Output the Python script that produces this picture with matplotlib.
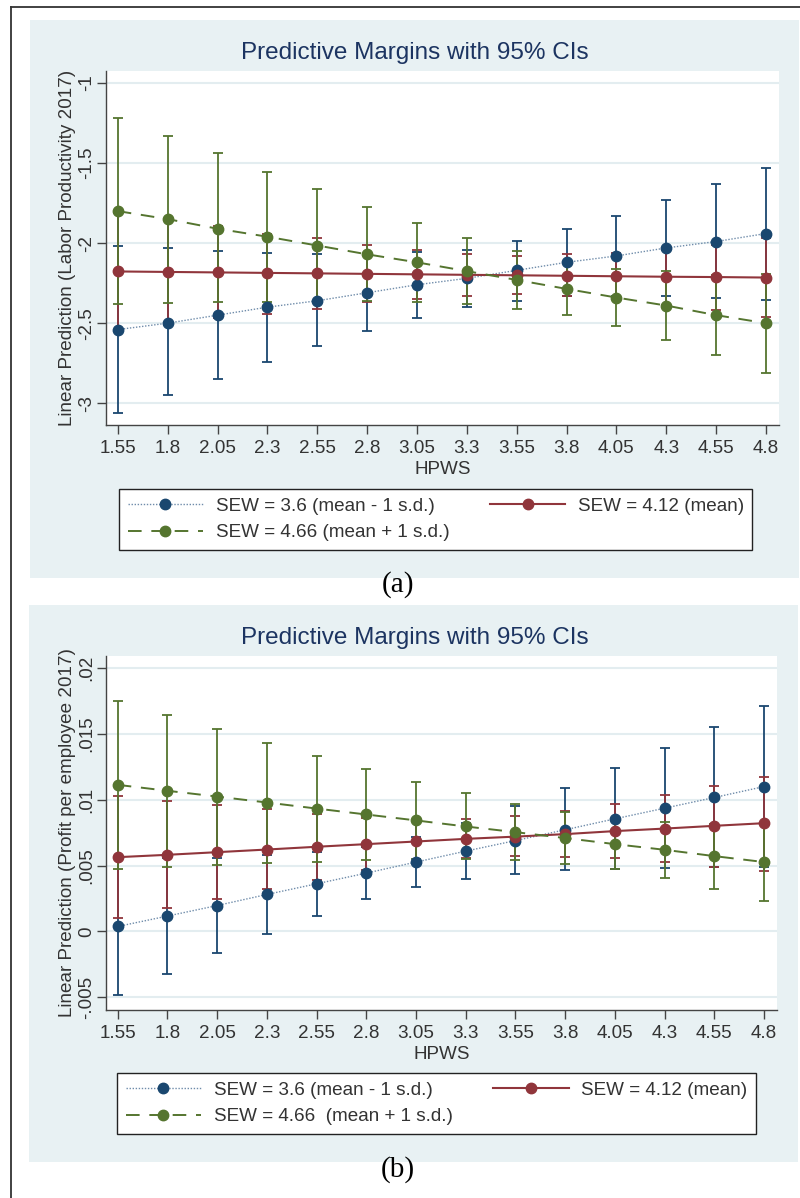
import matplotlib
matplotlib.use('Agg')
import matplotlib.pyplot as plt
from matplotlib.patches import Rectangle
from matplotlib.lines import Line2D

# HPWS values on the x axis
hpws = [1.55, 1.8, 2.05, 2.3, 2.55, 2.8, 3.05, 3.3, 3.55, 3.8, 4.05, 4.3, 4.55, 4.8]
xtick_labels = ['1.55', '1.8', '2.05', '2.3', '2.55', '2.8', '3.05', '3.3',
                '3.55', '3.8', '4.05', '4.3', '4.55', '4.8']

labels_a = ['SEW = 3.6 (mean - 1 s.d.)', 'SEW = 4.12 (mean)', 'SEW = 4.66 (mean + 1 s.d.)']
labels_b = ['SEW = 3.6 (mean - 1 s.d.)', 'SEW = 4.12 (mean)', 'SEW = 4.66  (mean + 1 s.d.)']

# panel (a): Labor productivity
a_low = [-2.54, -2.50, -2.45, -2.40, -2.36, -2.31, -2.26, -2.22, -2.17, -2.12, -2.08, -2.03, -1.99, -1.94]
a_low_lo = [-3.06, -2.95, -2.85, -2.74, -2.64, -2.55, -2.47, -2.40, -2.36, -2.33, -2.33, -2.33, -2.34, -2.355]
a_low_hi = [-2.02, -2.03, -2.05, -2.06, -2.07, -2.07, -2.055, -2.04, -1.985, -1.91, -1.83, -1.73, -1.63, -1.53]
a_mean = [-2.177, -2.180, -2.183, -2.186, -2.189, -2.192, -2.195, -2.198, -2.201, -2.204, -2.207, -2.210, -2.212, -2.215]
a_mean_lo = [-2.55, -2.51, -2.47, -2.44, -2.41, -2.37, -2.35, -2.33, -2.32, -2.33, -2.35, -2.385, -2.42, -2.46]
a_mean_hi = [-1.81, -1.85, -1.89, -1.94, -1.97, -2.01, -2.04, -2.07, -2.08, -2.07, -2.06, -2.04, -2.01, -1.97]
a_high = [-1.80, -1.85, -1.91, -1.96, -2.015, -2.07, -2.12, -2.175, -2.23, -2.286, -2.34, -2.39, -2.45, -2.50]
a_high_lo = [-2.38, -2.375, -2.37, -2.365, -2.36, -2.36, -2.365, -2.38, -2.41, -2.45, -2.52, -2.606, -2.70, -2.81]
a_high_hi = [-1.217, -1.33, -1.44, -1.556, -1.665, -1.773, -1.875, -1.97, -2.05, -2.12, -2.16, -2.175, -2.20, -2.19]
a_yticks = [-3, -2.5, -2, -1.5, -1]
a_yticklabels = ['-3', '-2.5', '-2', '-1.5', '-1']

# panel (b): Profit per employee
b_low = [0.00038, 0.00117, 0.00197, 0.00281, 0.00362, 0.00443, 0.00527, 0.0061, 0.0069, 0.00772, 0.00855, 0.00936, 0.01017, 0.011]
b_low_lo = [-0.0048, -0.00321, -0.00167, -0.00017, 0.00121, 0.00246, 0.00341, 0.00402, 0.00438, 0.00463, 0.00475, 0.00481, 0.00486, 0.00493]
b_low_hi = [0.0056, 0.00555, 0.0056, 0.0058, 0.0060, 0.0064, 0.00716, 0.0082, 0.0095, 0.01088, 0.0124, 0.01396, 0.01553, 0.0171]
b_mean = [0.00564, 0.00582, 0.00602, 0.00622, 0.00643, 0.00663, 0.00683, 0.00703, 0.00720, 0.00739, 0.00762, 0.00781, 0.00802, 0.00822]
b_mean_lo = [0.00102, 0.00175, 0.00248, 0.00324, 0.0039, 0.00464, 0.00526, 0.00557, 0.00574, 0.00569, 0.00554, 0.00524, 0.00493, 0.0046]
b_mean_hi = [0.0103, 0.00992, 0.00959, 0.00929, 0.00895, 0.00864, 0.0084, 0.00853, 0.00873, 0.00913, 0.00971, 0.01035, 0.01105, 0.01176]
b_high = [0.01113, 0.01068, 0.01024, 0.00979, 0.00933, 0.00888, 0.00843, 0.00797, 0.00754, 0.00709, 0.00663, 0.0062, 0.00572, 0.00527]
b_high_lo = [0.00478, 0.00493, 0.00506, 0.00521, 0.00531, 0.00544, 0.00553, 0.0055, 0.00539, 0.00514, 0.00473, 0.00407, 0.00326, 0.00235]
b_high_hi = [0.0175, 0.01642, 0.0154, 0.01434, 0.01333, 0.01232, 0.01136, 0.0105, 0.00967, 0.00906, 0.00853, 0.00833, 0.00818, 0.0082]
b_yticks = [-0.005, 0, 0.005, 0.01, 0.015, 0.02]
b_yticklabels = ['-.005', '0', '.005', '.01', '.015', '.02']

NAVY = '#1A476F'
MAROON = '#90353B'
GREEN = '#55752F'
BG = '#E8F1F3'
GRID = '#E3EDF0'
TXT = '#333333'
TITLE = '#1C3461'

plt.rcParams['font.family'] = ['Liberation Sans', 'DejaVu Sans']

W, H = 800, 1198
fig = plt.figure(figsize=(W / 100, H / 100), dpi=100)


def fx(px):
    return px / W


def fy(py):
    return 1 - py / H


# outer frame lines
fig.add_artist(Line2D([fx(11), 1], [fy(7), fy(7)], color='#333333', lw=1.3))
fig.add_artist(Line2D([fx(11), fx(11)], [fy(7), 0], color='#333333', lw=1.3))


def draw_panel(ylabel, y_lo, y_hi, yticks, yticklabels, series, labels,
               bg_box, ax_box, title_y, leg_xy, cap_y, cap_text):
    bx0, by0, bx1, by1 = bg_box
    fig.add_artist(Rectangle((fx(bx0), fy(by1)), fx(bx1 - bx0), (by1 - by0) / H,
                             facecolor=BG, edgecolor='none', zorder=0))
    ax0, ay0, ax1, ay1 = ax_box
    ax = fig.add_axes([fx(ax0), fy(ay1), fx(ax1 - ax0), (ay1 - ay0) / H])
    ax.set_facecolor('white')

    for yt in yticks:
        ax.axhline(yt, color=GRID, lw=1.5, zorder=0)

    # CIs first, then the connected lines
    for (vals, lo, hi, color, ls, lw, lcolor) in series:
        err = [[v - l for v, l in zip(vals, lo)], [h - v for v, h in zip(vals, hi)]]
        ax.errorbar(hpws, vals, yerr=err, fmt='none', ecolor=color, elinewidth=1.3,
                    capsize=3.8, capthick=1.3, zorder=2)
    handles = []
    for (vals, lo, hi, color, ls, lw, lcolor) in series:
        h, = ax.plot(hpws, vals, linestyle=ls, color=lcolor, lw=lw, marker='o',
                     markersize=7.5, markerfacecolor=color, markeredgecolor=color,
                     zorder=3)
        handles.append(h)

    ax.set_xlim(1.491, 4.865)
    ax.set_ylim(y_lo, y_hi)
    ax.set_xticks(hpws)
    ax.set_xticklabels(xtick_labels)
    ax.set_yticks(yticks)
    ax.set_yticklabels(yticklabels, rotation=90, va='center')
    for s in ['top', 'right']:
        ax.spines[s].set_visible(False)
    for s in ['left', 'bottom']:
        ax.spines[s].set_color('#444444')
        ax.spines[s].set_linewidth(1.0)
    ax.tick_params(axis='both', colors='#444444', labelcolor=TXT, labelsize=13.6,
                   length=6.5, width=1.0, direction='out')
    ax.tick_params(axis='x', pad=4)
    ax.tick_params(axis='y', pad=1)
    ax.set_xlabel('HPWS', fontsize=13.6, color=TXT, labelpad=3)
    ax.set_ylabel(ylabel, fontsize=13.6, color=TXT, labelpad=2)

    fig.text(fx(415), fy(title_y), 'Predictive Margins with 95% CIs', ha='center',
             va='center', fontsize=17.5, color=TITLE)

    # legend fills column-wise: blue, green in column 1; red in column 2
    order = [handles[0], handles[2], handles[1]]
    leg_labels = [labels[0], labels[2], labels[1]]
    leg = ax.legend(order, leg_labels, ncol=2, loc='upper left',
                    bbox_to_anchor=(fx(leg_xy[0]), fy(leg_xy[1])),
                    bbox_transform=fig.transFigure, borderaxespad=0,
                    fontsize=13.6, handlelength=4.0, handletextpad=0.66,
                    columnspacing=2.15, labelspacing=0.5, borderpad=0.45,
                    frameon=True, fancybox=False, framealpha=1, labelcolor=TXT)
    leg.get_frame().set_edgecolor('#222222')
    leg.get_frame().set_linewidth(1.0)

    fig.text(fx(398), fy(cap_y), cap_text, ha='center', va='center', fontsize=21,
             family='Liberation Serif', color='black')
    return ax


series_a = [
    (a_low, a_low_lo, a_low_hi, NAVY, (0, (1, 1.2)), 1.0, '#6F8CAA'),
    (a_mean, a_mean_lo, a_mean_hi, MAROON, '-', 1.5, MAROON),
    (a_high, a_high_lo, a_high_hi, GREEN, (0, (7, 5)), 1.4, GREEN),
]
series_b = [
    (b_low, b_low_lo, b_low_hi, NAVY, (0, (1, 1.2)), 1.0, '#6F8CAA'),
    (b_mean, b_mean_lo, b_mean_hi, MAROON, '-', 1.5, MAROON),
    (b_high, b_high_lo, b_high_hi, GREEN, (0, (7, 5)), 1.4, GREEN),
]

draw_panel('Linear Prediction (Labor Productivity 2017)', -3.136, -0.925,
           a_yticks, a_yticklabels, series_a, labels_a,
           (30, 20, 799, 578), (106, 71, 779, 425), 53, (119, 489), 585, '(a)')
draw_panel('Linear Prediction (Profit per employee 2017)', -0.00596, 0.02091,
           b_yticks, b_yticklabels, series_b, labels_b,
           (29, 605, 798, 1162), (106, 656, 777, 1010), 638, (117, 1073), 1170, '(b)')

fig.savefig('out.png', dpi=100)
